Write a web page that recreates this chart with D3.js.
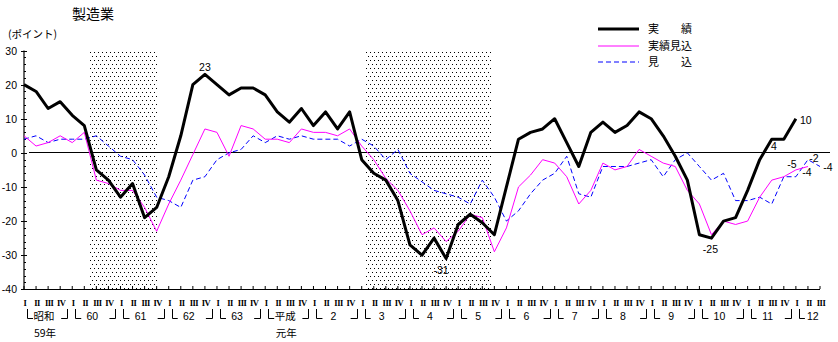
<!DOCTYPE html>
<html><head><meta charset="utf-8">
<script src="https://cdn.jsdelivr.net/npm/d3@7"></script>
<style>body{margin:0;background:#fff}svg{display:block}</style>
</head><body>
<svg id="c" width="838" height="342"></svg>
<script>
// ---- data ----
const title = "製造業";
const unitLabel = "(ポイント)";
const quarterLabels = ["I","II","III","IV"];
const yearLabels = ["昭和","60","61","62","63","平成","2","3","4","5","6","7","8","9","10","11","12"];
const yearSubLabels = ["59年","","","","","元年","","","","","","","","","","",""];
const nQuarters = 67;
const yTicks = [30,20,10,0,-10,-20,-30,-40];
const recessions = [[5.4, 11.1], [28.3, 38.8]];
// 実績
const actual = [20,18,13,15,11,8,-5,-8,-13,-9,-19,-16,-7,5,20,23,20,17,19,19,17,12,9,13,8,12,7,12,-2,-6,-8,-14,-27,-30,-25,-31,-21,-18,-20.5,-24,-10,4,6,7,10,3,-4,6,9,6,8,12,10,5,-1,-8,-24,-25,-20,-19,-11,-2,4,4,10];
// 実績見込
const estimate = [5,2,3,5,3,6,-8,-9,-11,-11,-16,-23,-15,-8,-0.5,7,6,-1,8,7,4,4,3,7,6,6,5,7,2,-2,-7.5,-11,-17,-24,-22,-26,-23,-18,-19,-29,-22,-10,-6.5,-2,-3,-7,-15,-11,-3,-5,-4,1,-1,-3,-4,-11,-15,-24,-20,-21,-20,-13,-8,-7,-5,-4];
// 見込
const forecast = [4,5,3,4,4,4,5,2,-1,-2,-6.5,-13,-14,-16,-8,-7,-2,0,1,5,3,5,4,5,4,4,4,2,4,2,-2,1,-6,-8.5,-11,-12,-13,-15,-8,-13,-20,-17,-12,-8,-6,-1,-12,-13,-4,-4,-4,-3,-2,-7,-2,0,-4,-8,-6,-14,-14,-13,-15,-7,-7,-2,-4];
const pointLabels = [
  {series:"actual", i:15, text:"23", dx:0, dy:-7},
  {series:"actual", i:35, text:"-31", dx:-5, dy:11},
  {series:"actual", i:57, text:"-25", dx:-1, dy:11},
  {series:"actual", i:63, text:"4", dx:-10, dy:7},
  {series:"actual", i:64, text:"10", dx:10, dy:1},
  {series:"estimate", i:64, text:"-5", dx:-4, dy:-6},
  {series:"estimate", i:65, text:"-4", dx:-1, dy:6},
  {series:"forecast", i:65, text:"-2", dx:6, dy:-2},
  {series:"forecast", i:66, text:"-4", dx:8, dy:1}
];
const legendItems = [
  {key:"actual", label:"実　　績"},
  {key:"estimate", label:"実績見込"},
  {key:"forecast", label:"見　　込"}
];

// ---- styles ----
const styles = {
  actual: {color:"#000", width:3, dash:null},
  estimate: {color:"#ff00ff", width:1, dash:null},
  forecast: {color:"#0000ff", width:1, dash:"5,3"}
};
const seriesData = {actual, estimate, forecast};

const svg = d3.select("#c");
const x = d3.scaleLinear().domain([0, nQuarters-1]).range([24, 820]);
const y = d3.scaleLinear().domain([-40, 30]).range([289.3, 50.5]);

// pattern
const defs = svg.append("defs");
const pat = defs.append("pattern").attr("id","dots").attr("patternUnits","userSpaceOnUse")
  .attr("width",4).attr("height",8);
pat.append("rect").attr("x",0).attr("y",0).attr("width",1).attr("height",1).attr("fill","#000");
pat.append("rect").attr("x",2).attr("y",4).attr("width",1).attr("height",1).attr("fill","#000");

// recession shading
svg.selectAll("rect.rec").data(recessions).enter().append("rect")
  .attr("x", d => Math.round(x(d[0]))).attr("width", d => Math.round(x(d[1]) - x(d[0])))
  .attr("y", Math.round(y(30))).attr("height", Math.round(y(-40) - y(30)))
  .attr("fill","url(#dots)");

// title
svg.append("text").attr("x", 93).attr("y", 19).attr("text-anchor","middle")
  .attr("font-family","'Noto Sans CJK JP'").attr("font-size",14).text(title);
svg.append("text").attr("x", 8).attr("y", 38)
  .attr("font-family","'Noto Sans CJK JP'").attr("font-size",10.5).text(unitLabel);

// y axis
const yAxisG = svg.append("g");
yAxisG.append("line").attr("x1",24).attr("x2",24).attr("y1",y(30)).attr("y2",y(-40))
  .attr("stroke","#000").attr("stroke-width",1.2);
yAxisG.selectAll("line.minor").data(d3.range(-40,31,2)).enter().append("line")
  .attr("x1",24).attr("x2",26).attr("y1",d=>Math.round(y(d))+0.5).attr("y2",d=>Math.round(y(d))+0.5)
  .attr("stroke","#000").attr("stroke-width",1);
yAxisG.selectAll("line.major").data(yTicks).enter().append("line")
  .attr("x1",21).attr("x2",27).attr("y1",d=>Math.round(y(d))+0.5).attr("y2",d=>Math.round(y(d))+0.5)
  .attr("stroke","#000").attr("stroke-width",1);
yAxisG.selectAll("text").data(yTicks).enter().append("text")
  .attr("x",17).attr("y",d=>y(d)+4).attr("text-anchor","end")
  .attr("font-family","'Liberation Sans'").attr("font-size",10.5).text(d=>d);

// x axis
const xAxisG = svg.append("g");
xAxisG.append("line").attr("x1",24).attr("x2",820).attr("y1",289.5).attr("y2",289.5)
  .attr("stroke","#000").attr("stroke-width",1.2);
xAxisG.selectAll("line.t").data(d3.range(nQuarters)).enter().append("line")
  .attr("x1",d=>x(d)).attr("x2",d=>x(d)).attr("y1",289).attr("y2",286)
  .attr("stroke","#000").attr("stroke-width",1);
xAxisG.selectAll("text.q").data(d3.range(nQuarters)).enter().append("text")
  .attr("x",d=>x(d)+1).attr("y",306).attr("text-anchor","middle")
  .attr("font-family","'Liberation Serif'").attr("font-weight","bold").attr("font-size",8.5)
  .attr("letter-spacing",-0.5)
  .text(d=>quarterLabels[d%4]);

// year brackets
yearLabels.forEach((lab, k) => {
  const q1 = x(4*k);
  const last = Math.min(4*k+3, nQuarters-1);
  const g = svg.append("g").attr("stroke","#000").attr("fill","none").attr("stroke-width",1);
  g.append("path").attr("d", `M${Math.round(q1+3)+0.5},309V318.5H${q1+9}`);
  if (4*k+3 <= nQuarters-1) {
    const q4 = x(last);
    g.append("path").attr("d", `M${q4+1},318.5H${Math.round(q4+7)+0.5}V309`);
  }
  const isJp = /[^0-9]/.test(lab);
  svg.append("text").attr("x", q1 + (k===16?17:20)).attr("y", 320).attr("text-anchor","middle")
    .attr("font-family", isJp ? "'Noto Sans CJK JP'" : "'Liberation Sans'")
    .attr("font-size", 10.5).text(lab);
  if (yearSubLabels[k]) {
    svg.append("text").attr("x", q1 + 21).attr("y", 337).attr("text-anchor","middle")
      .attr("font-family","'Noto Sans CJK JP'").attr("font-size",10.5).text(yearSubLabels[k]);
  }
});

// zero line
svg.append("line").attr("x1",29).attr("x2",830).attr("y1",Math.round(y(0))-0.5).attr("y2",Math.round(y(0))-0.5)
  .attr("stroke","#000").attr("stroke-width",1);

// lines
const line = d3.line().x((d,i)=>x(i)).y(d=>y(d));
["forecast","estimate","actual"].forEach(k => {
  const s = styles[k];
  svg.append("path").datum(seriesData[k]).attr("d", line)
    .attr("fill","none").attr("stroke", s.color).attr("stroke-width", s.width)
    .attr("stroke-linejoin","round").attr("stroke-dasharray", s.dash);
});

// point labels
svg.selectAll("text.pl").data(pointLabels).enter().append("text")
  .attr("x", d => x(d.i) + d.dx).attr("y", d => y(seriesData[d.series][d.i]) + d.dy + 4)
  .attr("text-anchor","middle").attr("font-family","'Liberation Sans'").attr("font-size",10.5)
  .text(d => d.text);

// legend
const legendY = [29, 46, 62];
legendItems.forEach((it, j) => {
  const s = styles[it.key];
  svg.append("line").attr("x1",598).attr("x2",639).attr("y1",legendY[j]).attr("y2",legendY[j])
    .attr("stroke", s.color).attr("stroke-width", s.width).attr("stroke-dasharray", s.dash);
  svg.append("text").attr("x",648).attr("y",legendY[j]+4)
    .attr("font-family","'Noto Sans CJK JP'").attr("font-size",11).text(it.label);
});
</script>
</body></html>
